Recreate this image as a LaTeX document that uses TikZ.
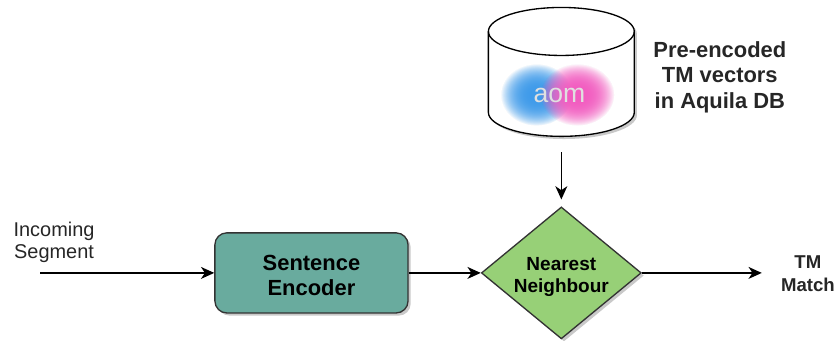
\documentclass[tikz,border=0pt]{standalone}
\usepackage{xcolor}
\usepackage{fontspec}
\setmainfont{Liberation Sans}
\usepackage{tikz}
\usetikzlibrary{shapes.geometric,arrows.meta,shadows,fadings}
\definecolor{encgreen}{HTML}{69AB9E}
\definecolor{nngreen}{HTML}{97D077}
\definecolor{logoblue}{HTML}{3F9BEA}
\definecolor{logopink}{HTML}{F25CC0}
\tikzfading[name=logofade, inner color=transparent!0, outer color=transparent!100]
\tikzset{softshadow/.style={drop shadow={shadow xshift=2pt, shadow yshift=-2pt, opacity=.3, fill=black!70}}}
\tikzset{flow/.style={-{Stealth[length=10pt,width=9pt,inset=3pt]}, line width=1pt}}
\tikzset{lbl/.style={align=center, inner sep=0pt, text=black!85}}

\begin{document}
\begin{tikzpicture}
    \useasboundingbox (0,0) rectangle (22.09,-8.996);

    \node[draw=black!80, line width=1pt, fill=encgreen, rounded corners=9pt, minimum width=5.11cm, minimum height=2.12cm, align=center, softshadow, font=\fontsize{16.5}{18.75}\selectfont\bfseries] at (8.24,-7.22) (enc){\rule{0pt}{15pt}Sentence\\Encoder};
    \node[draw=black!80, line width=1pt, fill=nngreen, diamond, aspect=1.21, inner sep=0pt, minimum width=4.23cm, minimum height=3.49cm, align=center, softshadow, anchor=west, font=\fontsize{14.3}{17.25}\selectfont\bfseries] at ([xshift = 1.905cm]enc.east) (nn){\rule{0pt}{16pt}Nearest\\Neighbour};
    \node[minimum width=3.86cm, minimum height=3.41cm, anchor=south, inner sep=0pt, outer sep=0pt] at ([yshift = 1.85cm]nn.north) (db){};

    % cylinder body, then the front edge of its lid
    \draw[line width=1pt, fill=white, softshadow] ([yshift=-.635cm]db.north west) arc (180:0:1.93cm and .635cm) -- ([yshift=.635cm]db.south east) arc (0:-180:1.93cm and .635cm) -- cycle;
    \draw[line width=1pt] ([yshift=-.635cm]db.north west) arc (180:360:1.93cm and .635cm);

    % logo inside the cylinder
    \foreach \i in {1,2,3}{
        \fill[logoblue, path fading=logofade] ([xshift=-0.66cm,yshift=-0.6cm]db.center) ellipse (.95cm and .82cm);
    }
    \foreach \i in {1,2,3}{
        \fill[logopink, path fading=logofade] ([xshift=0.42cm,yshift=-0.6cm]db.center) ellipse (.98cm and .82cm);
    }
    \node[text=white!88!black, font=\fontsize{20}{20}\selectfont, inner sep=0pt] at ([xshift=-0.05cm,yshift=-0.63cm]db.center) (logo){aom};

    \node[lbl, anchor=west, font=\fontsize{16.5}{19}\selectfont\bfseries] at ([xshift = 0.5cm,yshift = -0.14cm]db.east) (dblbl){Pre-encoded\\TM vectors\\in Aquila DB};

    \node[lbl, font=\fontsize{15}{16.5}\selectfont] at (1.43,-6.4) (seg){Incoming\\Segment};
    \coordinate (start) at (1.06,-7.22);
    \coordinate (finish) at ([xshift = 3.17cm]nn.east);
    \coordinate (dbout) at ([yshift = -0.42cm]db.south);
    \coordinate (nntop) at ([yshift = 0.18cm]nn.north);
    \node[lbl, font=\fontsize{14}{17}\selectfont\bfseries] at ([xshift = 1.22cm,yshift = -0.02cm]finish) (tm){TM\\Match};

    \draw[flow] (start) -- (enc.west);
    \draw[flow] (enc.east) -- (nn.west);
    \draw[flow] (nn.east) -- (finish);
    \draw[flow] (dbout) -- (nntop);
\end{tikzpicture}
\end{document}
